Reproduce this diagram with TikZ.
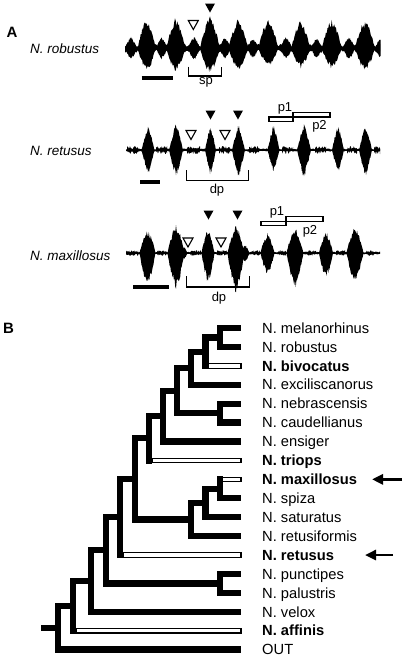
\documentclass[tikz,border=0pt]{standalone}
\usepackage{fontspec}
\setmainfont{Liberation Sans}
\usetikzlibrary{arrows.meta,calc}
\newcommand\wpulse[6]{%
  \fill[wave] plot[domain=-1:1,samples=25] ({#1+#3*\x},{#2-#4*(1-abs(\x))*(1+#6*abs(\x))*(0.74+0.3*rnd)})
   -- plot[domain=1:-1,samples=25] ({#1+#3*\x},{#2+#5*(1-abs(\x))*(1+#6*abs(\x))*(0.74+0.3*rnd)}) -- cycle;}
\newcommand\wband[4]{% x0, x1, base, amp
  \fill[wave] plot[domain=#1:#2,samples=180] (\x,{#3-#4*(0.3+0.7*rnd)})
   -- plot[domain=#2:#1,samples=180] (\x,{#3+#4*(0.3+0.7*rnd)}) -- cycle;}
\newcommand\wnoise[4]{% x0, x1, base, amp : short noisy burst
  \fill[wave] plot[domain=#1:#2,samples=20] (\x,{#3-#4*(0.15+0.85*rnd)})
   -- plot[domain=#2:#1,samples=20] (\x,{#3+#4*(0.15+0.85*rnd)}) -- cycle;}
\begin{document}
\begin{tikzpicture}[x=1pt,y=-1pt,
  branch/.style={line width=6.3pt},
  vbranch/.style={line width=6.3pt,line cap=rect},
  openbar/.style={draw=black,fill=white,line width=1.1pt},
  wave/.style={fill=black},
  tax/.style={anchor=base west,inner sep=0pt,font=\fontsize{14.7}{17}\selectfont},
  spec/.style={anchor=base west,inner sep=0pt,font=\fontsize{13.5}{16}\selectfont\itshape},
  panel/.style={anchor=base west,inner sep=0pt,font=\fontsize{15}{17}\selectfont\bfseries},
  lab/.style={inner sep=0pt,font=\fontsize{13}{15}\selectfont},
  bracket/.style={line width=1.1pt},
  scalebar/.style={line width=3.8pt},
  arr/.style={line width=2.8pt,-{Triangle[length=11pt,width=10pt]}},
  filltri/.style={fill=black},
  opentri/.style={draw=black,fill=white,line width=1.1pt},
  tridown/.pic={\path[pic actions] (-5,-4.5) -- (5,-4.5) -- (0,4.5) -- cycle;}
]
\useasboundingbox (0,0) rectangle (404,657);
\pgfmathsetseed{7}

% ---------- Panel A ----------
\node[panel] (A) at (6.5,37) {A};
\node[spec] (srob) at (30,53.3) {N. robustus};
\node[spec] (sret) at (30,155) {N. retusus};
\node[spec] (smax) at (30,260) {N. maxillosus};

% robustus trace
\begin{scope}
\clip (125,0) rectangle (380.5,100);
\wband{125}{380}{48.3}{4.5}
\foreach \c/\h/\u/\d in {131/6/11/11,161.7/5.5/11/11,194/6/11.5/11.5,225/5.5/11/10,253/5.5/10/10,286/6/11/11,316.7/5.5/10/10,349/6/11/11,380/5/9/9}
  {\wpulse{\c}{48.3}{\h}{\u}{\d}{0.6}}
\foreach \c/\h/\u/\d in {146.7/9/30/24,175.8/9.5/30/24,210/10/31.5/25,238.3/10/29/21,268.3/10/29/18,300.8/9.5/28/20,331.7/10/29/20,365/10/28/23}
  {\wpulse{\c}{48.3}{\h}{\u}{\d}{0.6}}
\end{scope}
\draw[scalebar] (141.7,78.3) -- (173.3,78.3);
\draw[bracket] (188.3,66.7) -- (188.3,76) -- (221.7,76) -- (221.7,66.7);
\node[lab] (sp) at (206,82.5) {sp};
\pic[filltri] at (210,8) {tridown};
\pic[opentri] at (193.3,25) {tridown};

% retusus trace
\begin{scope}
\clip (126,90) rectangle (380.5,200);
\draw[line width=0.9pt] (126,150) -- (380,150);
\wband{126}{380}{150}{1.6}
\foreach \a/\b in {127/138,156/167,187/200,219/230,249/259,282/293,315/326,347/357,374/380}
  {\wnoise{\a}{\b}{150}{4}}
\foreach \c/\h/\u/\d in {148/6.5/25/25,176/7/27/27,210.5/5.5/24/25,238.5/6.5/25/27,273.5/6/25/22,304/7/25/28,338/6/25/23,365.5/6.5/25/27}
  {\wpulse{\c}{150}{\h}{\u}{\d}{0.25}}
\end{scope}
\draw[scalebar] (140,182) -- (160,182);
\draw[bracket] (186.7,170) -- (186.7,180.5) -- (248.3,180.5) -- (248.3,170);
\node[lab] (dp1) at (217,190) {dp};
\pic[filltri] at (210.5,115) {tridown};
\pic[filltri] at (238,115) {tridown};
\pic[opentri] at (191,135) {tridown};
\pic[opentri] at (225,135) {tridown};
\draw[openbar] (269,117) rectangle (293,121.7);
\draw[openbar] (293,112.3) rectangle (330,117);
\node[lab] (p1a) at (285,108) {p1};
\node[lab] (p2a) at (319.5,126) {p2};

% maxillosus trace
\begin{scope}
\clip (126,200) rectangle (380.5,300);
\draw[line width=0.9pt] (126,253) -- (380,253);
\wband{126}{380}{253}{1.5}
\foreach \a/\b in {126/138,157/166,190/201,217/227,252/260,278/286,307/316,336/345,366/374}
  {\wnoise{\a}{\b}{253}{2.8}}
\wpulse{184}{253}{3.5}{6}{6}{0.6}
\wpulse{245}{253}{4.5}{8}{9}{0.6}
\foreach \c/\h/\u/\d in {147.5/8/23/32,176/8.5/28/35,208/6.5/23/29,236/8.5/27/39,267.5/7/20/22,295/8.5/26/35,326/7/21/25,355/8.5/26/29}
  {\wpulse{\c}{253}{\h}{\u}{\d}{0.6}}
\end{scope}
\draw[scalebar] (133,287) -- (169,287);
\draw[bracket] (186.7,276) -- (186.7,287) -- (249.3,287) -- (249.3,276);
\node[lab] (dp2) at (219,298) {dp};
\pic[filltri] at (208.5,215) {tridown};
\pic[filltri] at (237.5,215) {tridown};
\pic[opentri] at (188,242.5) {tridown};
\pic[opentri] at (221,242.5) {tridown};
\draw[openbar] (261,221.2) rectangle (286,225.8);
\draw[openbar] (286,216.7) rectangle (323,221.2);
\node[lab] (p1b) at (277,212) {p1};
\node[lab] (p2b) at (310,231) {p2};

% ---------- Panel B ----------
\node[panel] (B) at (3,333.3) {B};

\foreach \n/\i/\t in {mel/0/{N. melanorhinus},rob/1/{N. robustus},biv/2/{\bfseries N. bivocatus},
  exc/3/{N. exciliscanorus},neb/4/{N. nebrascensis},cau/5/{N. caudellianus},ens/6/{N. ensiger},
  tri/7/{\bfseries N. triops},max/8/{\bfseries N. maxillosus},spi/9/{N. spiza},sat/10/{N. saturatus},
  ref/11/{N. retusiformis},ret/12/{\bfseries N. retusus},pun/13/{N. punctipes},pal/14/{N. palustris},
  vel/15/{N. velox},aff/16/{\bfseries N. affinis},out/17/{OUT}}
{
  \coordinate (\n) at (241,{328+18.92*\i});
  \node[tax] (t\n) at (262,{328+18.92*\i+5.2}) {\t};
}

\coordinate (na) at (219.7,337.46);
\coordinate (nb) at (205.5,351.65);
\coordinate (nc) at (191.3,368.20);
\coordinate (nd) at (219.7,413.14);
\coordinate (ne) at (177,390.67);
\coordinate (nf) at (163,416.10);
\coordinate (ng) at (149,438.27);
\coordinate (nh) at (219.7,488.82);
\coordinate (ni) at (205.5,503.01);
\coordinate (nj) at (191.3,519.57);
\coordinate (nk) at (134.7,478.92);
\coordinate (nl) at (120,516.98);
\coordinate (nm) at (219.7,583.42);
\coordinate (nn) at (105.7,550.20);
\coordinate (no) at (91.3,581.00);
\coordinate (np) at (73,605.86);
\coordinate (nq) at (58,627.75);
\coordinate (root) at (41,627.75);

% black branches
\foreach \p/\c in {na/mel,na/rob,nb/na,nc/nb,nc/exc,nd/neb,nd/cau,ne/nc,ne/nd,nf/ne,nf/ens,ng/nf,
  nh/spi,ni/nh,ni/sat,nj/ni,nj/ref,nk/ng,nk/nj,nl/nk,nm/pun,nm/pal,nn/nl,nn/nm,no/nn,no/vel,
  np/no,nq/np,nq/out}
  {\draw[branch] (\p) |- (\c);}
\draw[branch] (root) -- (nq);

% open (double pulse) branches
\foreach \p/\c in {nb/biv,ng/tri,nh/max,nl/ret,np/aff}
{
  \draw[vbranch] (\p) -- (\p |- \c);
  \draw[openbar] ($(\p |- \c)+(3.15,-2.3)$) rectangle ($(\c)+(0,2.3)$);
}

% arrows
\coordinate (amS) at (402,479.36);
\coordinate (amE) at (372,479.36);
\coordinate (arS) at (393,555.04);
\coordinate (arE) at (365,555.04);
\draw[arr] (amS) -- (amE);
\draw[arr] (arS) -- (arE);
\end{tikzpicture}
\end{document}
